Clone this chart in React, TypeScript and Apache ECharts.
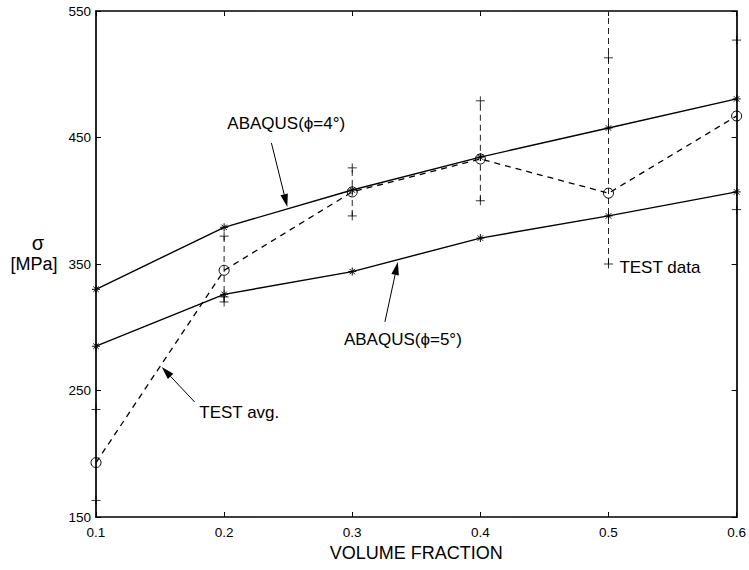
import React, { useEffect, useRef } from "react";
import * as echarts from "echarts";

// ---- data ----
const volumeFraction = [0.1, 0.2, 0.3, 0.4, 0.5, 0.6];
const abaqusPhi4 = [330, 379, 408.5, 434.5, 457.5, 480.5];
const abaqusPhi5 = [285, 326, 344, 370.5, 388, 407];
const testAvg = [193, 345, 407, 433, 406, 467];
const testData = [
  [163, 235],
  [320, 324, 372],
  [388, 426],
  [400, 479],
  [350, 513, 560],
  [393, 527],
];

const X_MIN = 0.1;
const X_MAX = 0.6;
const X_STEP = 0.1;
const Y_MIN = 150;
const Y_MAX = 550;
const Y_STEP = 100;

// annotation anchors (data coordinates)
const arrowNotes = [
  { text: "ABAQUS(\u03D5=4\u00B0)", label: [0.2485, 460.7], align: "center", tail: [0.2369, 445.7], tip: [0.2493, 395.1] },
  { text: "ABAQUS(\u03D5=5\u00B0)", label: [0.3395, 290.7], align: "center", tail: [0.3255, 304.2], tip: [0.3356, 351.6] },
  { text: "TEST avg.", label: [0.1806, 233], align: "left", tail: [0.177, 240.9], tip: [0.1513, 268.6] },
];
const plainNotes = [{ text: "TEST data", label: [0.5085, 347.6], align: "left" }];

const FONT = "'Liberation Sans', Arial, Helvetica, sans-serif";
const ASTERISK = "path://M5 0L5 10M0 5L10 5M1.6 1.6L8.4 8.4M8.4 1.6L1.6 8.4";
const PLUS = "path://M5 0L5 10M0 5L10 5";

export default function App() {
  const ref = useRef<HTMLDivElement>(null);

  useEffect(() => {
    if (!ref.current) return;
    const chart = echarts.init(ref.current, null, { renderer: "svg" });

    const pair = (ys: number[]) => volumeFraction.map((x, i) => [x, ys[i]]);
    const scatterPts: number[][] = [];
    const bars: number[][] = [];
    testData.forEach((vals, i) => {
      const x = volumeFraction[i];
      vals.forEach((v) => {
        if (v >= Y_MIN && v <= Y_MAX) scatterPts.push([x, v]);
      });
      bars.push([x, Math.min(...vals), Math.max(...vals)]);
    });

    const axisLine = { show: true, lineStyle: { color: "#000", width: 1.7 } };
    const tick = { show: true, inside: true, length: 5, lineStyle: { color: "#000", width: 1 } };

    const option: any = {
      animation: false,
      backgroundColor: "#fff",
      grid: { left: 96, right: 10, top: 11, bottom: 53, containLabel: false },
      xAxis: [
        {
          type: "value",
          min: X_MIN,
          max: X_MAX,
          interval: X_STEP,
          position: "bottom",
          axisLine,
          axisTick: tick,
          splitLine: { show: false },
          axisLabel: {
            color: "#000",
            fontSize: 13.5,
            fontFamily: FONT,
            margin: 8,
            formatter: (v: number) => v.toFixed(1),
          },
          name: "VOLUME FRACTION",
          nameLocation: "middle",
          nameGap: 23,
          nameTextStyle: { color: "#000", fontSize: 18, fontFamily: FONT, verticalAlign: "top" },
        },
        {
          type: "value",
          min: X_MIN,
          max: X_MAX,
          interval: X_STEP,
          position: "top",
          axisLine,
          axisTick: tick,
          splitLine: { show: false },
          axisLabel: { show: false },
        },
      ],
      yAxis: [
        {
          type: "value",
          min: Y_MIN,
          max: Y_MAX,
          interval: Y_STEP,
          position: "left",
          axisLine,
          axisTick: tick,
          splitLine: { show: false },
          axisLabel: { color: "#000", fontSize: 13.5, fontFamily: FONT, margin: 5 },
        },
        {
          type: "value",
          min: Y_MIN,
          max: Y_MAX,
          interval: Y_STEP,
          position: "right",
          axisLine,
          axisTick: tick,
          splitLine: { show: false },
          axisLabel: { show: false },
        },
      ],
      series: [
        {
          type: "custom",
          name: "TEST data range",
          clip: true,
          silent: true,
          z: 1,
          data: bars,
          renderItem: (params: any, api: any) => {
            const x = api.value(0);
            const p1 = api.coord([x, api.value(1)]);
            const p2 = api.coord([x, api.value(2)]);
            return {
              type: "line",
              shape: { x1: p1[0], y1: p1[1], x2: p2[0], y2: p2[1] },
              style: { stroke: "#222", lineWidth: 1, lineDash: [6, 4], fill: null },
            };
          },
        },
        {
          type: "scatter",
          name: "TEST data",
          data: scatterPts,
          symbol: PLUS,
          symbolSize: 9,
          clip: false,
          silent: true,
          z: 2,
          itemStyle: { color: "#000", borderColor: "#000", borderWidth: 1 },
        },
        {
          type: "line",
          name: "TEST avg.",
          data: pair(testAvg),
          clip: false,
          silent: true,
          z: 3,
          symbol: "circle",
          symbolSize: 10,
          showAllSymbol: true,
          lineStyle: { color: "#000", width: 1.3, type: [6, 5] },
          itemStyle: { color: "transparent", borderColor: "#000", borderWidth: 1 },
        },
        {
          type: "line",
          name: "ABAQUS(phi=4)",
          data: pair(abaqusPhi4),
          clip: false,
          silent: true,
          z: 4,
          symbol: ASTERISK,
          symbolSize: 8,
          lineStyle: { color: "#000", width: 1.4, type: "solid" },
          itemStyle: { color: "#000", borderColor: "#000", borderWidth: 1 },
        },
        {
          type: "line",
          name: "ABAQUS(phi=5)",
          data: pair(abaqusPhi5),
          clip: false,
          silent: true,
          z: 4,
          symbol: ASTERISK,
          symbolSize: 8,
          lineStyle: { color: "#000", width: 1.4, type: "solid" },
          itemStyle: { color: "#000", borderColor: "#000", borderWidth: 1 },
        },
      ],
    };
    chart.setOption(option);

    const px = (p: number[]) => chart.convertToPixel({ gridIndex: 0 }, p) as number[];
    const graphics: any[] = [];
    const textStyle = (text: string, align: string) => ({
      text,
      fill: "#000",
      font: `17px ${FONT}`,
      align,
      verticalAlign: "middle",
    });
    arrowNotes.forEach((n) => {
      const l = px(n.label);
      const a = px(n.tail);
      const b = px(n.tip);
      const dx = b[0] - a[0];
      const dy = b[1] - a[1];
      const len = Math.hypot(dx, dy);
      const ux = dx / len;
      const uy = dy / len;
      const headL = 13;
      const headW = 3.8;
      const bx = b[0] - ux * headL;
      const by = b[1] - uy * headL;
      graphics.push({
        type: "text",
        x: l[0],
        y: l[1],
        style: textStyle(n.text, n.align),
        z: 20,
      });
      graphics.push({
        type: "line",
        shape: { x1: a[0], y1: a[1], x2: bx, y2: by },
        style: { stroke: "#000", lineWidth: 1 },
        z: 20,
      });
      graphics.push({
        type: "polygon",
        shape: {
          points: [
            [b[0], b[1]],
            [bx - uy * headW, by + ux * headW],
            [bx + uy * headW, by - ux * headW],
          ],
        },
        style: { fill: "#000" },
        z: 20,
      });
    });
    plainNotes.forEach((n) => {
      const l = px(n.label);
      graphics.push({ type: "text", x: l[0], y: l[1], style: textStyle(n.text, n.align), z: 20 });
    });
    const sigmaY = px([X_MIN, 350])[1];
    graphics.push({
      type: "text",
      x: 38,
      y: sigmaY - 21,
      style: { text: "\u03C3", fill: "#000", font: `20px ${FONT}`, align: "center", verticalAlign: "middle" },
      z: 20,
    });
    graphics.push({
      type: "text",
      x: 34,
      y: sigmaY,
      style: { text: "[MPa]", fill: "#000", font: `18px ${FONT}`, align: "center", verticalAlign: "middle" },
      z: 20,
    });
    chart.setOption({ graphic: graphics });

    return () => chart.dispose();
  }, []);

  return (
    <div
      ref={ref}
      style={{ position: "fixed", left: 0, top: 0, width: 749, height: 570, background: "#fff" }}
    />
  );
}
